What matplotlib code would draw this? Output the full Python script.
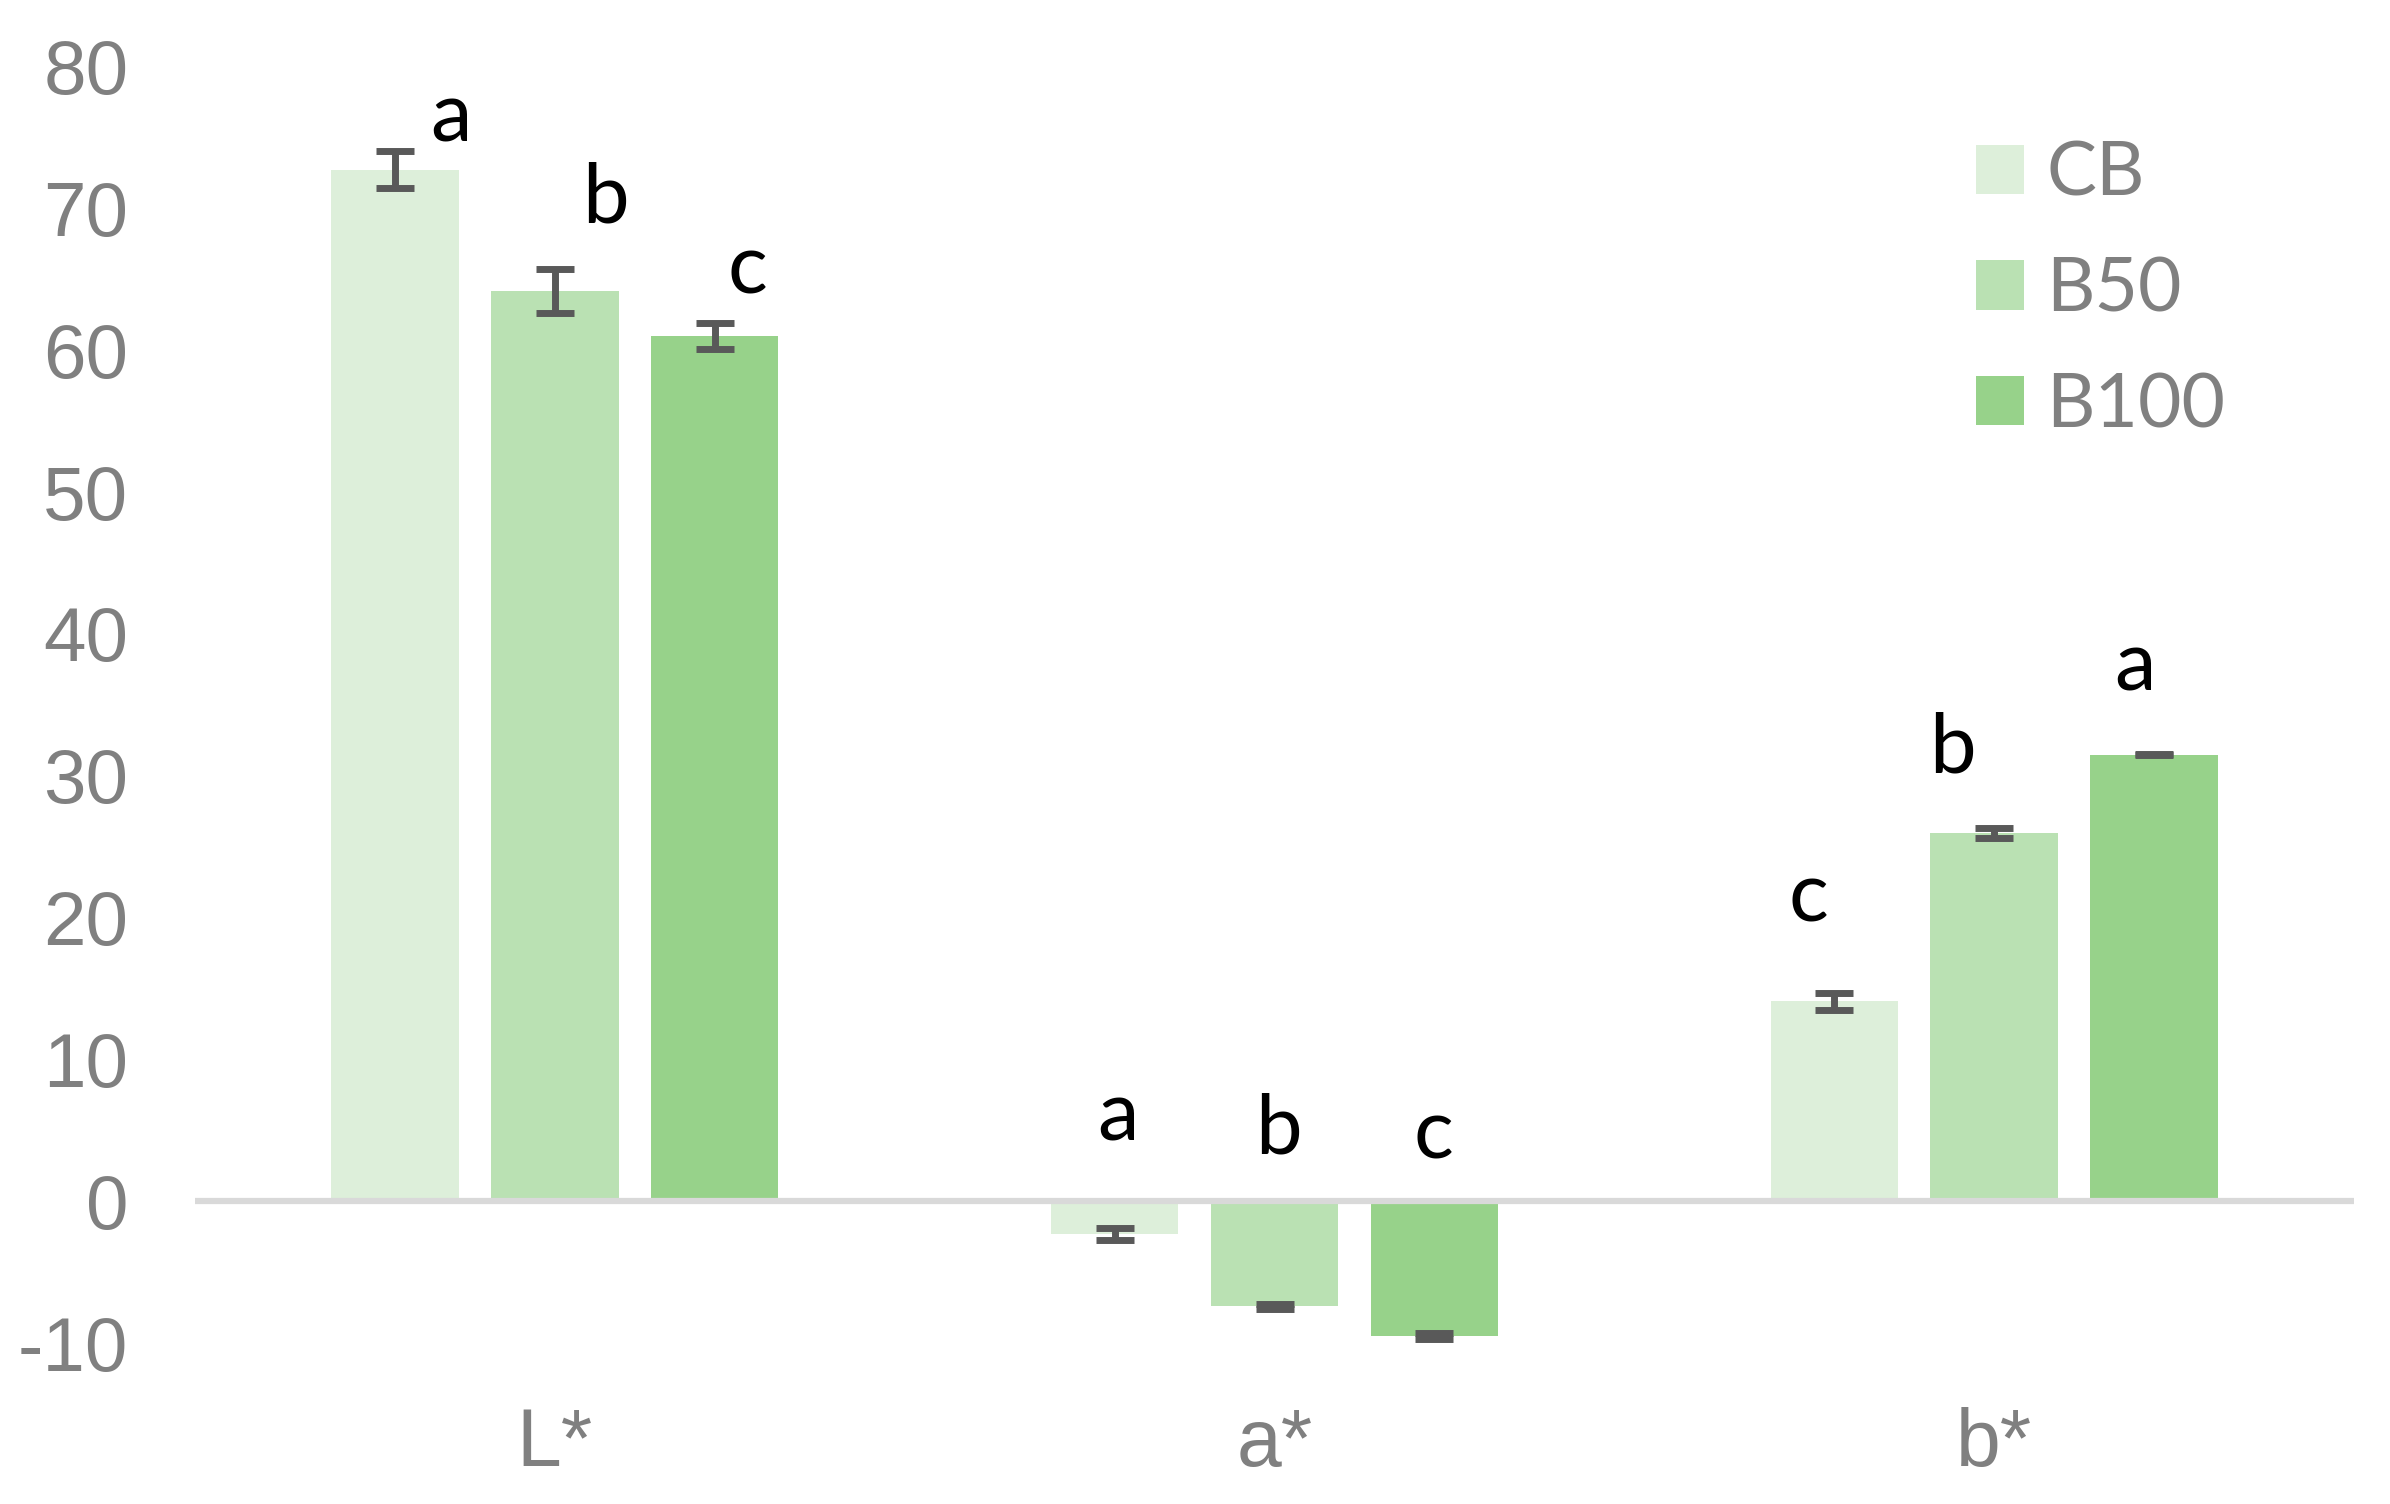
import matplotlib
matplotlib.use("Agg")
import matplotlib.pyplot as plt
import numpy as np

# data
categories = ["L*", "a*", "b*"]
series = ["CB", "B50", "B100"]
cb_vals = [72.7, -2.3, 14.1]
b50_vals = [64.2, -7.4, 26.0]
b100_vals = [61.0, -9.5, 31.5]
cb_err = [1.3, 0.4, 0.6]
b50_err = [1.55, 0.2, 0.35]
b100_err = [0.9, 0.2, 0.05]
cb_letters = ["a", "a", "c"]
b50_letters = ["b", "b", "b"]
b100_letters = ["c", "c", "a"]
y_ticks = [-10, 0, 10, 20, 30, 40, 50, 60, 70, 80]

colors = ["#DDEFDA", "#BAE1B3", "#97D28A"]
err_color = "#595959"
axis_grey = "#808080"

# where the significance letters sit (x shift from bar centre, y baseline)
letter_dx = [[0.078, 0.070, 0.046],
             [0.005, 0.005, -0.001],
             [-0.036, -0.058, -0.027]]
letter_y = [[74.7, 69.0, 64.0],
            [4.3, 3.4, 3.0],
            [19.7, 30.2, 36.0]]


def plot(ax):
    x = np.arange(len(categories))
    width = 0.177
    step = 0.222
    vals = [cb_vals, b50_vals, b100_vals]
    errs = [cb_err, b50_err, b100_err]
    letters = [cb_letters, b50_letters, b100_letters]

    for i, name in enumerate(series):
        pos = x + (i - 1) * step
        ax.bar(pos, vals[i], width, color=colors[i], label=name, zorder=2)
        ax.errorbar(pos, vals[i], yerr=errs[i], fmt="none", ecolor=err_color,
                    elinewidth=5, capsize=13.7, capthick=5, zorder=4)
        for j in range(len(categories)):
            ax.text(pos[j] + letter_dx[j][i], letter_y[j][i], letters[i][j],
                    ha="center", va="baseline", fontsize=60,
                    family="Lato", color="black", zorder=5)

    ax.axhline(0, color="#D9D9D9", linewidth=4.5, zorder=3)

    ax.set_xlim(-0.5, 2.5)
    ax.set_ylim(-10, 80)
    ax.set_yticks(y_ticks)
    ax.set_yticklabels([str(t) for t in y_ticks], family="Liberation Sans",
                       fontsize=55, color=axis_grey)
    ax.set_xticks(x)
    ax.set_xticklabels(categories, family="Liberation Sans", fontsize=58,
                       color=axis_grey)
    ax.tick_params(axis="y", length=0, pad=48)
    ax.tick_params(axis="x", length=0, pad=46)
    for s in ax.spines.values():
        s.set_visible(False)

    leg = ax.legend(loc="upper left", bbox_to_anchor=(1976 / 2390, 1 - 140 / 1504),
                    bbox_transform=ax.figure.transFigure, frameon=False,
                    prop={"family": "Lato", "size": 54},
                    handlelength=0.64, handleheight=0.64,
                    handletextpad=0.30, labelspacing=0.62, borderpad=0,
                    borderaxespad=0)
    for t in leg.get_texts():
        t.set_color(axis_grey)


def main():
    fig = plt.figure(figsize=(23.9, 15.04), dpi=100)
    ax = fig.add_axes([195 / 2390, 0.1068, 2159 / 2390, 0.8491])
    plot(ax)
    fig.savefig("out.png", dpi=100, facecolor="white")


if __name__ == "__main__":
    main()
